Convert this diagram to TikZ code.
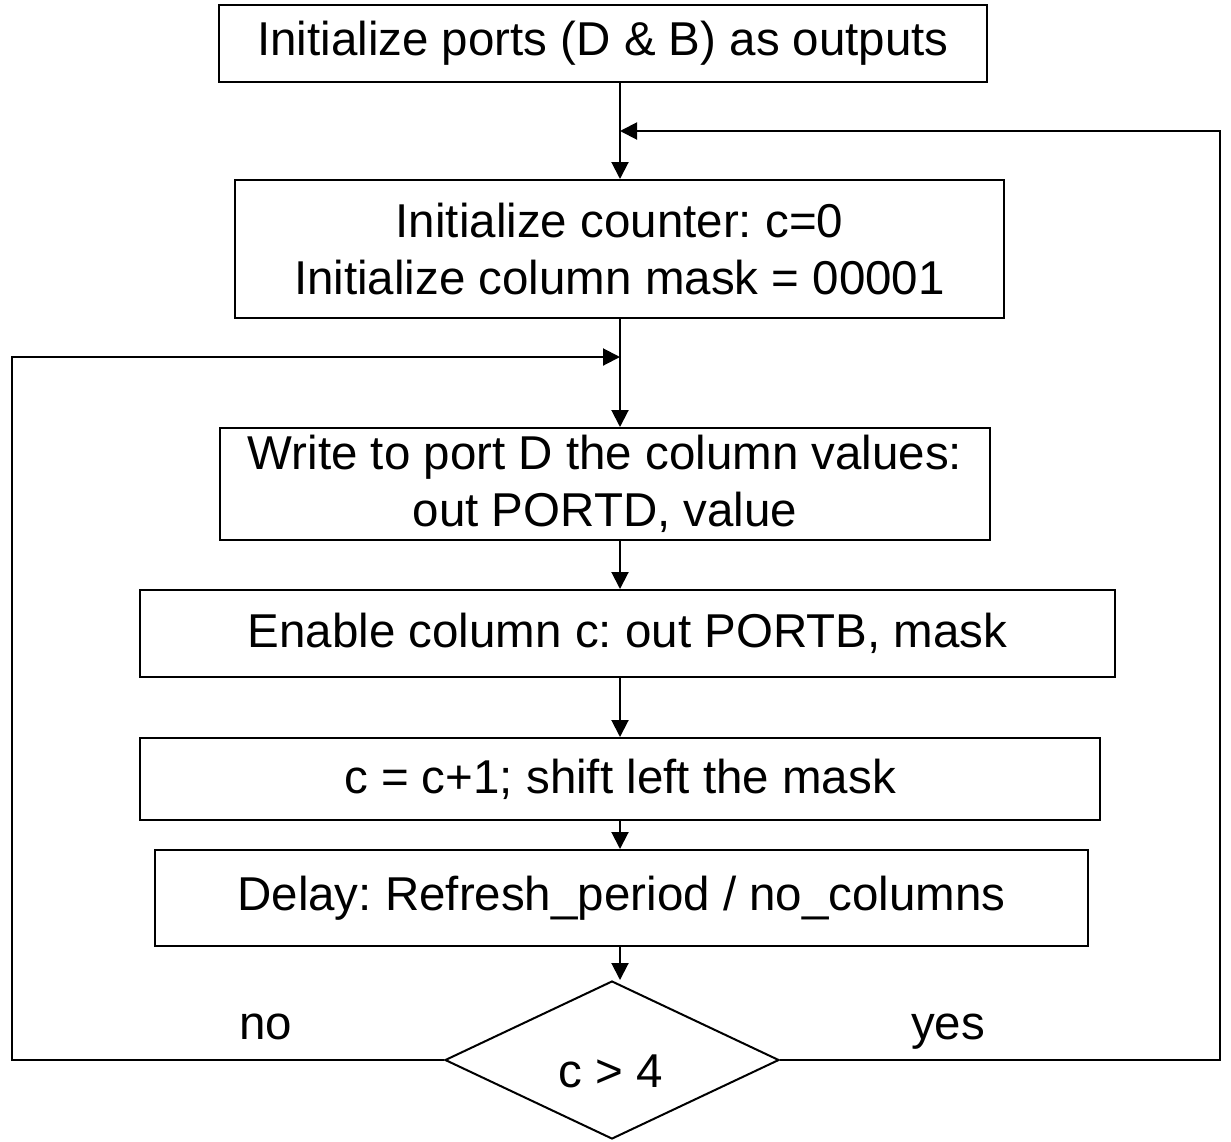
\documentclass[tikz,border=0pt]{standalone}
\usepackage{fontspec}
\setmainfont{Liberation Sans}
\usetikzlibrary{arrows.meta,shapes.geometric}
\frenchspacing
\begin{document}
\begin{tikzpicture}[x=1pt,y=1pt,
  every node/.style={font=\fontsize{47.5}{57}\selectfont},
  boxnode/.style={draw,line width=2pt,rectangle,inner sep=0pt,align=center},
  lbl/.style={anchor=base},
  conn/.style={line width=2pt},
  arr/.style={line width=2pt,-{Triangle[width=17pt,length=17pt]}}]
\useasboundingbox (0,0) rectangle (1231,-1141);
% boxes: center x, center y, width, height
\node[boxnode,minimum width=768pt,minimum height=77pt] (b1) at (603,-43.5) {Initialize ports (D \& B) as outputs};
\node[boxnode,minimum width=769pt,minimum height=138pt] (b2) at (619.5,-249) {Initialize counter: c=0\\Initialize column mask = 00001};
\node[boxnode,minimum width=770pt,minimum height=112pt] (b3) at (605,-484) {Write to port D the column values:\\out PORTD, value};
\node[boxnode,minimum width=975pt,minimum height=87pt] (b4) at (627.5,-633.5) {Enable column c: out PORTB, mask};
\node[boxnode,minimum width=960pt,minimum height=82pt] (b5) at (620,-779) {c = c+1; shift left the mask};
\node[boxnode,minimum width=933pt,minimum height=96pt] (b6) at (621.5,-898) {Delay: Refresh\_period / no\_columns};
\node[draw,line width=2pt,diamond,inner sep=0pt,minimum width=334pt,minimum height=158pt] (d) at (612,-1060) {};
\node[lbl] (dt) at (611,-1087) {c > 4};
\node[lbl] (no) at (266,-1039) {no};
\node[lbl] (yes) at (948,-1039) {yes};
% connector column
\coordinate (cx) at (620,0);
\coordinate (jr) at (620,-131);
\coordinate (jl) at (620,-357);
\coordinate (rt) at (1220,-131);
\coordinate (rb) at (1220,-1060);
\coordinate (lt) at (12,-357);
\coordinate (lb) at (12,-1060);
\draw[arr] (b1.south -| cx) -- (b2.north -| cx);
\draw[conn] (b2.south -| cx) -- (jl);
\draw[arr] (jl) -- (b3.north -| cx);
\draw[arr] (b3.south -| cx) -- (b4.north -| cx);
\draw[arr] (b4.south -| cx) -- (b5.north -| cx);
\draw[arr] (b5.south -| cx) -- (b6.north -| cx);
\draw[arr] (b6.south -| cx) -- (d.north -| cx);
\draw[arr] (d.east) -- (rb) -- (rt) -- (jr);
\draw[arr] (d.west) -- (lb) -- (lt) -- (jl);
\end{tikzpicture}
\end{document}
